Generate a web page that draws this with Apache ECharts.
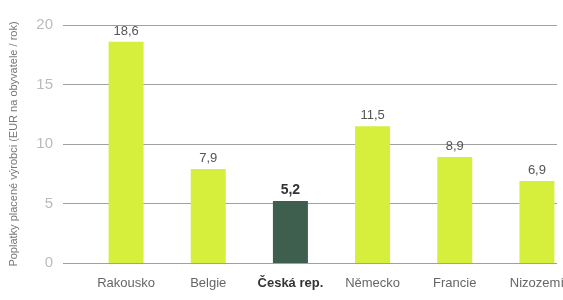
<!DOCTYPE html>
<html><head><meta charset="utf-8">
<script src="https://cdn.jsdelivr.net/npm/echarts@6/dist/echarts.min.js"></script>
<style>html,body{margin:0;padding:0;background:#fff}#c{width:563px;height:300px}</style>
</head><body><div id="c"></div>
<script>
const categories = ['Rakousko','Belgie','Česká rep.','Německo','Francie','Nizozemí'];
const values = [18.6, 7.9, 5.2, 11.5, 8.9, 6.9];
const yTicks = [0, 5, 10, 15, 20];
const highlight = 'Česká rep.';
const yName = 'Poplatky placené výrobci (EUR na obyvatele / rok)';

const LIME = '#d6ef3c', DARK = '#3e5e4e';
const FONT = '"Liberation Sans Narrow", "Liberation Sans", sans-serif';
const chart = echarts.init(document.getElementById('c'));
const fmt = v => String(v).replace('.', ',');
chart.setOption({
  animation: false,
  grid: [
    {left: 63, right: 6, top: 25, bottom: 37, outerBoundsMode: 'none', containLabel: false},
    {left: 85, right: -15, top: 25, bottom: 37, outerBoundsMode: 'none', containLabel: false}
  ],
  xAxis: [
    {gridIndex: 0, type: 'value', min: 0, max: 1, show: false},
    {gridIndex: 1, type: 'category', data: categories,
     axisLine: {show: false}, axisTick: {show: false},
     axisLabel: {interval: 0, margin: 14, fontSize: 13, color: '#666', fontFamily: FONT,
       formatter: v => v === highlight ? '{b|' + v + '}' : v,
       rich: {b: {fontWeight: 'bold', color: '#333', fontSize: 13, fontFamily: FONT}}}}
  ],
  yAxis: [
    {gridIndex: 0, type: 'value', min: yTicks[0], max: yTicks[yTicks.length-1], interval: yTicks[1]-yTicks[0],
     name: yName, nameLocation: 'middle', nameGap: 44,
     nameTextStyle: {fontSize: 11, color: '#777', fontFamily: FONT},
     axisLine: {show: false}, axisTick: {show: false},
     axisLabel: {margin: 10, fontSize: 15, color: '#bbb', fontFamily: FONT},
     splitLine: {lineStyle: {color: '#a0a0a0', width: 1}}},
    {gridIndex: 1, type: 'value', min: yTicks[0], max: yTicks[yTicks.length-1], show: false}
  ],
  series: [{
    type: 'bar', xAxisIndex: 1, yAxisIndex: 1, barWidth: 35,
    data: values.map((v, i) => ({value: v,
      itemStyle: {color: categories[i] === highlight ? DARK : LIME},
      label: categories[i] === highlight ? {fontWeight: 'bold', color: '#333', fontSize: 14} : {}})),
    label: {show: true, position: 'top', distance: 4, color: '#555', fontSize: 13,
      fontFamily: FONT, formatter: p => fmt(p.value)}
  }]
});
</script></body></html>
